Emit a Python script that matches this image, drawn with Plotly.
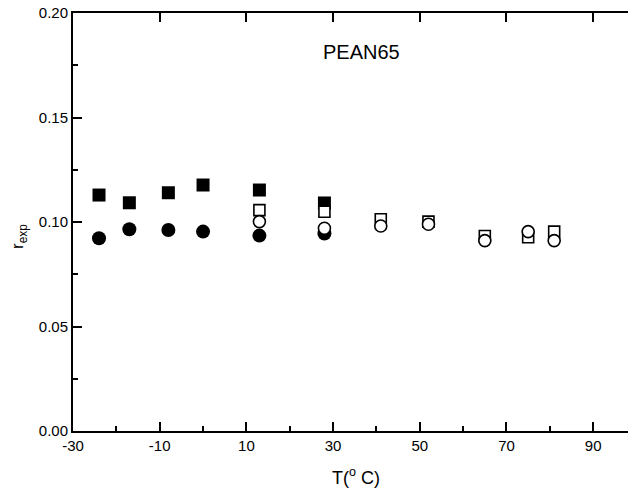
import plotly.graph_objects as go

# Data
t_filled = [-24, -17, -8, 0, 13, 28]
sq_filled = [0.1129, 0.1092, 0.1140, 0.1177, 0.1153, 0.1091]
ci_filled = [0.0922, 0.0965, 0.0962, 0.0954, 0.0935, 0.0945]

t_open = [13, 28, 41, 52, 65, 75, 81]
sq_open = [0.1057, 0.1049, 0.1013, 0.1002, 0.0933, 0.0927, 0.0954]
ci_open = [0.1002, 0.0970, 0.0981, 0.0989, 0.0911, 0.0954, 0.0911]

x_ticks = [-30, -10, 10, 30, 50, 70, 90]
y_ticks = [0.00, 0.05, 0.10, 0.15, 0.20]

FONT = "Liberation Sans, Arial, sans-serif"
X_RANGE = [-30, 98.03]

fig = go.Figure()
fig.add_trace(go.Scatter(x=t_filled, y=sq_filled, mode="markers",
                         marker=dict(symbol="square", size=13, color="black",
                                     line=dict(width=0))))
fig.add_trace(go.Scatter(x=t_filled, y=ci_filled, mode="markers",
                         marker=dict(symbol="circle", size=14, color="black",
                                     line=dict(width=0))))
fig.add_trace(go.Scatter(x=t_open, y=sq_open, mode="markers",
                         marker=dict(symbol="square", size=11, color="white",
                                     line=dict(width=1.6, color="black"))))
fig.add_trace(go.Scatter(x=t_open, y=ci_open, mode="markers",
                         marker=dict(symbol="circle", size=12, color="white",
                                     line=dict(width=1.6, color="black"))))
# empty trace so the top (frame) axis is drawn
fig.add_trace(go.Scatter(x=[], y=[], xaxis="x2", yaxis="y", hoverinfo="skip"))

fig.update_layout(
    width=628, height=492,
    margin=dict(l=73, r=0, t=13, b=61, autoexpand=False),
    paper_bgcolor="white", plot_bgcolor="white",
    showlegend=False,
    font=dict(family=FONT, color="black", size=15),
    xaxis=dict(range=X_RANGE, tickvals=x_ticks, automargin=False,
               ticktext=[str(v) for v in x_ticks],
               ticks="inside", ticklen=9, tickwidth=1.5, tickcolor="black",
               showline=True, linewidth=2, linecolor="black",
               showgrid=False, zeroline=False,
               minor=dict(ticks="inside", ticklen=5, tickwidth=1.5,
                          tickcolor="black", dtick=10, tick0=-30, showgrid=False),
               tickfont=dict(size=15, family=FONT)),
    xaxis2=dict(range=X_RANGE, tickvals=x_ticks, automargin=False,
                overlaying="x", side="top", anchor="y", showticklabels=False,
                ticks="inside", ticklen=9, tickwidth=1.5, tickcolor="black",
                showline=True, linewidth=2, linecolor="black",
                showgrid=False, zeroline=False),
    yaxis=dict(range=[0, 0.2], tickvals=y_ticks, automargin=False,
               ticktext=["%.2f" % v for v in y_ticks],
               ticks="inside", ticklen=9, tickwidth=1.5, tickcolor="black",
               showline=True, linewidth=2, linecolor="black",
               showgrid=False, zeroline=False,
               minor=dict(ticks="inside", ticklen=5, tickwidth=1.5,
                          tickcolor="black", dtick=0.025, tick0=0, showgrid=False),
               tickfont=dict(size=15, family=FONT)),
    annotations=[
        dict(text="PEAN65", xref="paper", yref="paper", x=(361 - 73) / 555,
             y=(431 - 52) / 418, showarrow=False, xanchor="center", yanchor="middle",
             font=dict(size=20, family=FONT, color="black")),
        dict(text="r<sub>exp</sub>", xref="paper", yref="paper", x=0, xshift=-54,
             y=(431 - 237) / 418, showarrow=False, textangle=-90,
             xanchor="center", yanchor="middle",
             font=dict(size=17, family=FONT, color="black")),
        dict(text="T(<sup>o</sup> C)", xref="paper", yref="paper",
             x=(356 - 73) / 555, y=0, yshift=-45, showarrow=False,
             xanchor="center", yanchor="middle",
             font=dict(size=18, family=FONT, color="black")),
    ],
)

fig.write_html("out.html", config={"displayModeBar": False},
               post_script="document.body.style.margin='0';"
                           "document.body.style.padding='0';")
